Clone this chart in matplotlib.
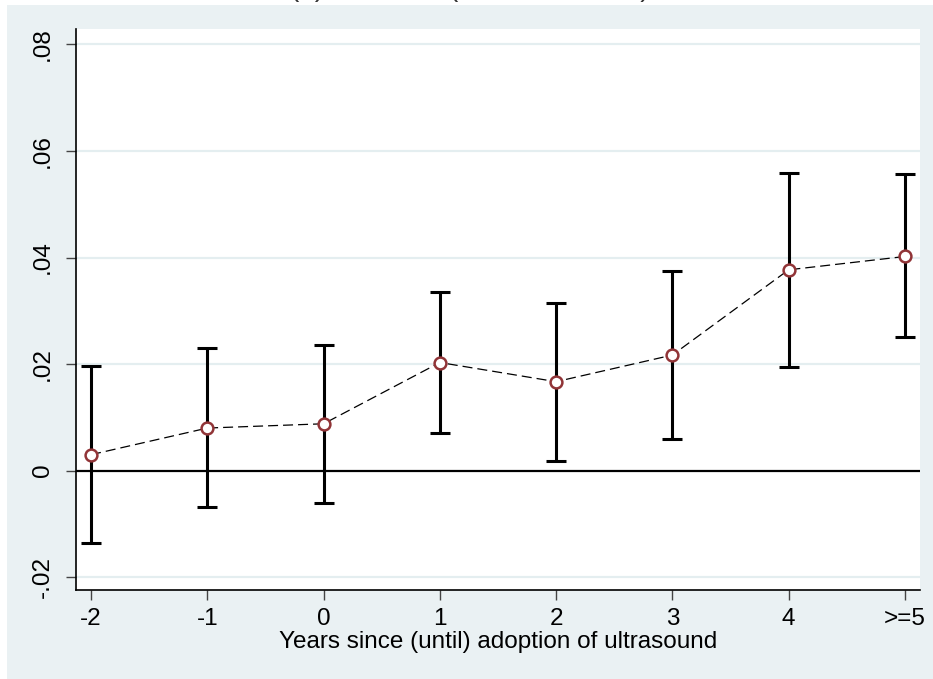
import matplotlib
matplotlib.use("Agg")
import matplotlib.pyplot as plt
from matplotlib.patches import Rectangle

# ---- data ----
categories = ["-2", "-1", "0", "1", "2", "3", "4", ">=5"]
x_pos = [-2, -1, 0, 1, 2, 3, 4, 5]
estimates = [0.0030, 0.0080, 0.0088, 0.0203, 0.0167, 0.0217, 0.0377, 0.0402]
ci_low = [-0.0135, -0.0069, -0.0060, 0.0071, 0.0018, 0.0060, 0.0195, 0.0250]
ci_high = [0.0196, 0.0230, 0.0235, 0.0335, 0.0315, 0.0375, 0.0558, 0.0556]
y_ticks = [-0.02, 0.0, 0.02, 0.04, 0.06, 0.08]
y_tick_labels = ["-.02", "0", ".02", ".04", ".06", ".08"]
x_label = "Years since (until) adoption of ultrasound"
title = "(b) Sex ratio (male to female)"

plt.rcParams['font.family'] = ['Liberation Sans', 'DejaVu Sans']

W, H = 933, 679
fig = plt.figure(figsize=(W / 100, H / 100), dpi=100)
fig.patch.set_facecolor("white")
bg = "#EAF1F3"
fig.patches.append(Rectangle((7 / W, 0), 1 - 7 / W, 1 - 5 / H,
                             transform=fig.transFigure, facecolor=bg,
                             edgecolor="none", zorder=-10))

L, R, T, B = 76, 920, 29, 590
ax = fig.add_axes([L / W, 1 - B / H, (R - L) / W, (B - T) / H])
ax.set_facecolor("white")

ax.set_xlim(-2.13, 5.13)
ax.set_ylim(-0.0224, 0.0829)

for yt in y_ticks:
    if yt != 0:
        ax.axhline(yt, color="#E4EEF0", lw=1.6, zorder=0)
ax.axhline(0, color="black", lw=1.6, zorder=1)

ax.errorbar(x_pos, estimates,
            yerr=[[e - lo for e, lo in zip(estimates, ci_low)],
                  [hi - e for e, hi in zip(estimates, ci_high)]],
            fmt="none", ecolor="black", elinewidth=2.2, capsize=7,
            capthick=2.2, zorder=2)
ax.plot(x_pos, estimates, color="black", lw=0.9, ls=(0, (8, 4)), zorder=3)
ax.plot(x_pos, estimates, ls="none", marker="o", markersize=8.5,
        markerfacecolor="white", markeredgecolor="#913437",
        markeredgewidth=1.8, zorder=4)

ax.set_xticks(x_pos)
ax.set_xticklabels(categories)
ax.set_yticks(y_ticks)
ax.set_yticklabels(y_tick_labels, rotation=90, va="center")
ax.tick_params(axis="both", labelsize=17.5, length=7, width=1,
               color="#444444", direction="out")
ax.tick_params(axis="x", pad=6)
ax.tick_params(axis="y", pad=9)
ax.set_xlabel(x_label, fontsize=17.5, labelpad=1)

for s in ["top", "right"]:
    ax.spines[s].set_visible(False)
for s in ["left", "bottom"]:
    ax.spines[s].set_color("black")
    ax.spines[s].set_linewidth(1.2)

fig.text(0.311, 1 + 4 / H, title, fontsize=20, ha="left", va="baseline",
         color="#333333")

fig.savefig("out.png", dpi=100, facecolor=fig.get_facecolor())
